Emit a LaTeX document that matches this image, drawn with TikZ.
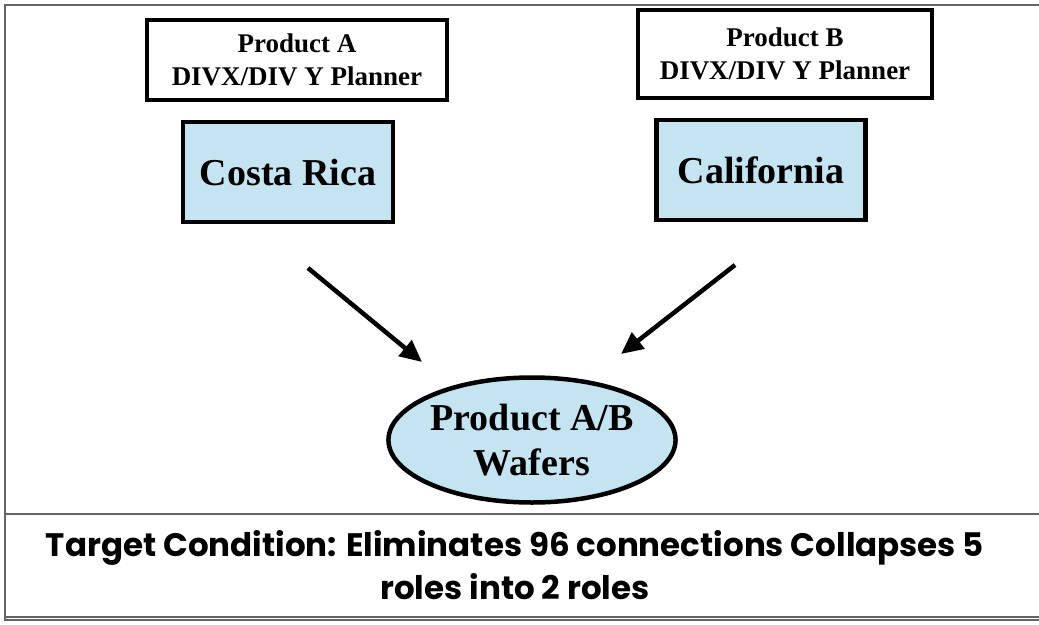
\documentclass[tikz,border=0pt]{standalone}
\usepackage{fontspec}
\setmainfont{Liberation Serif}
\newfontfamily\gothic{Poppins}
\usetikzlibrary{arrows.meta,shapes.geometric}
\definecolor{siteblue}{RGB}{196,228,242}
\definecolor{framegray}{RGB}{100,100,100}
\tikzset{
  planner/.style={draw,line width=4.5pt,fill=white,inner sep=0pt,align=center,
    font=\fontsize{27}{33}\selectfont\bfseries},
  site/.style={draw,line width=4.5pt,fill=siteblue,inner sep=0pt,
    font=\fontsize{38}{44}\selectfont\bfseries},
  flow/.style={line width=4.5pt,-{Triangle[length=22pt,width=20pt]}},
}
\begin{document}
\begin{tikzpicture}[x=1pt,y=-1pt]
\useasboundingbox (0,0) rectangle (1039,624);
% outer frame (open on the right)
\draw[framegray,line width=1.6pt] (1039,5) -- (5,5) -- (5,620) -- (1039,620);
% summary panel
\draw[framegray,line width=1.8pt] (5,514) -- (1039,514);
\draw[framegray,line width=1.2pt] (5,617) -- (1039,617);
\node[font=\gothic\bfseries\fontsize{32.5}{43}\selectfont,align=center] (summary) at (515,565)
  {Target Condition: Eliminates 96 connections Collapses 5\\roles into 2 roles};
% planners
\node[planner,minimum width=300pt,minimum height=80pt] (planA) at (297,60)
  {Product A\\DIVX/DIV Y Planner};
\node[planner,minimum width=294pt,minimum height=88pt] (planB) at (785,54)
  {Product B\\DIVX/DIV Y Planner};
% sites
\node[site,minimum width=210pt,minimum height=100pt] (costa) at (288,172) {Costa Rica};
\node[site,minimum width=209pt,minimum height=100pt] (calif) at (761,170) {California};
% wafers
\node[ellipse,draw,line width=4.5pt,fill=siteblue,minimum width=280pt,minimum height=125pt,
  inner sep=0pt,align=center,font=\fontsize{38}{45}\selectfont\bfseries] (wafers) at (532,440)
  {Product A/B\\Wafers};
% arrows
\coordinate (la) at (308,268);
\coordinate (lb) at (422,362);
\coordinate (ra) at (735,265);
\coordinate (rb) at (621,354);
\draw[flow] (la) -- (lb);
\draw[flow] (ra) -- (rb);
\end{tikzpicture}
\end{document}
